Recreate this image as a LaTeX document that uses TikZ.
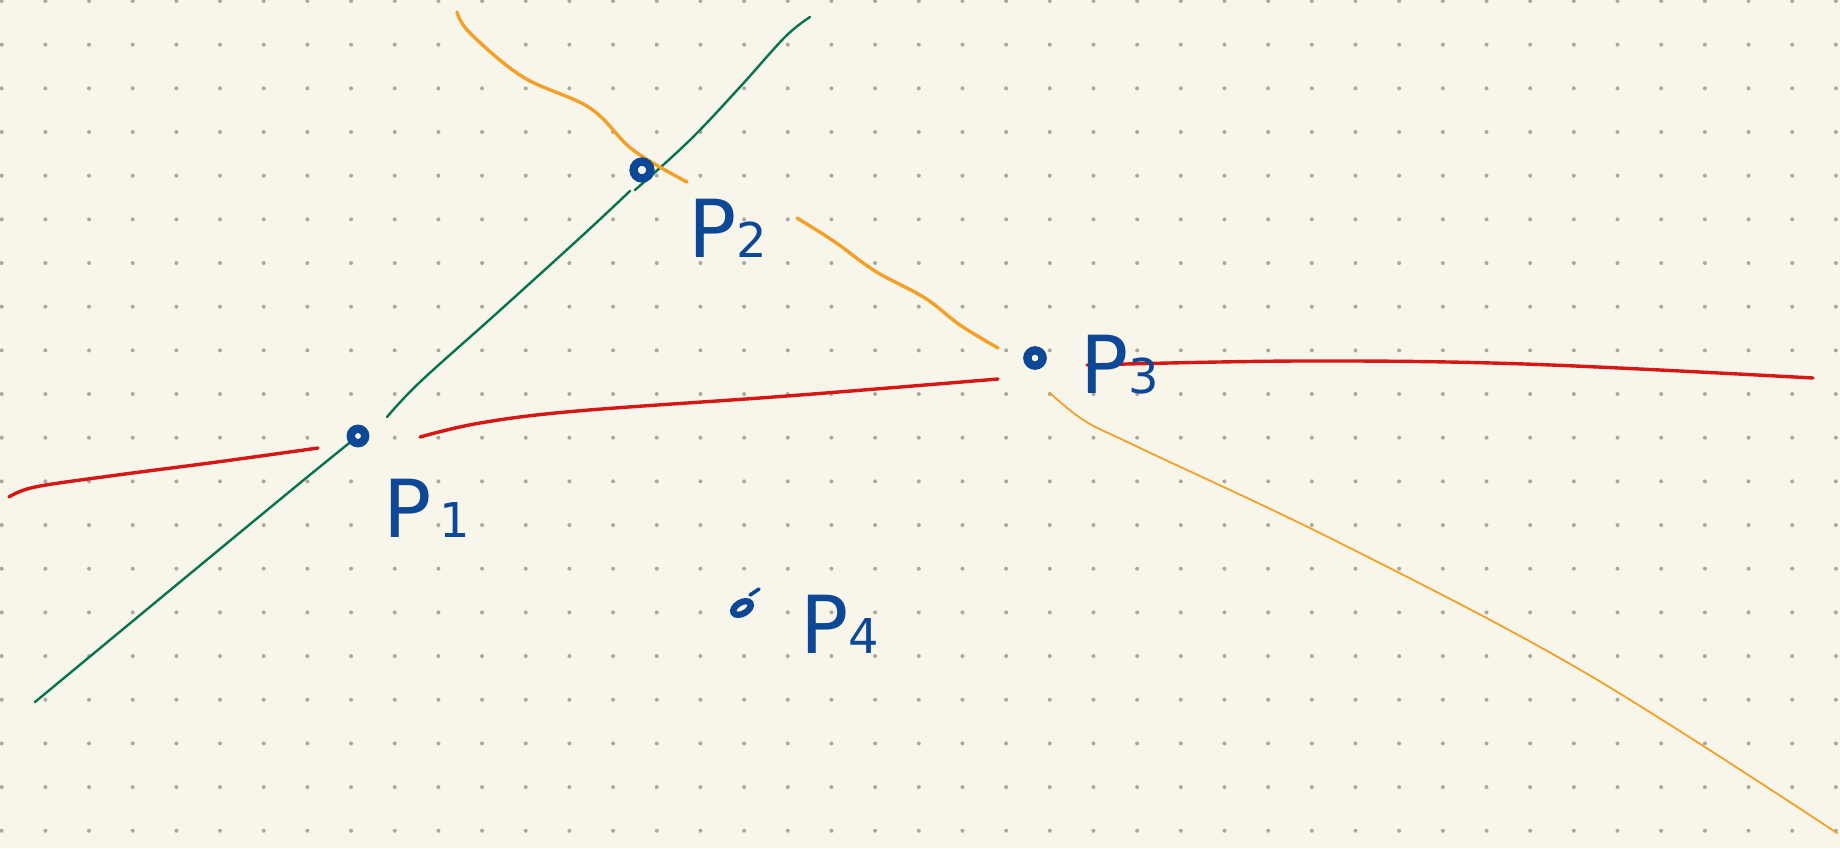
\documentclass[tikz,border=0pt]{standalone}
\usepackage{fontspec}
\setmainfont{DejaVu Sans}
\definecolor{paper}{RGB}{248,246,234}
\definecolor{griddot}{RGB}{170,168,160}
\definecolor{inkblue}{RGB}{12,72,150}
\definecolor{inkgreen}{RGB}{8,115,82}
\definecolor{inkorange}{RGB}{244,160,40}
\definecolor{inkred}{RGB}{215,22,22}
\tikzset{
  greenline/.style={inkgreen, line width=1.2pt, line cap=round, line join=round},
  redline/.style={inkred, line width=1.7pt, line cap=round, line join=round},
  orangeline/.style={inkorange, line width=1.7pt, line cap=round, line join=round},
  thinorange/.style={inkorange, line width=0.9pt, line cap=round, line join=round},
  pointdot/.style={inkblue, line width=4.2pt},
  plabel/.style={inkblue, anchor=base west, inner sep=0pt, font=\fontsize{40}{40}\selectfont},
}
\newcommand{\sub}[1]{{\fontsize{24}{24}\selectfont #1}}
\begin{document}
\begin{tikzpicture}[x=0.5pt,y=-0.5pt]
\useasboundingbox (0,0) rectangle (1840,848);
\fill[paper] (0,0) rectangle (1840,848);
% dot grid
\foreach \i in {0,...,42}{
  \foreach \j in {0,...,19}{
    \fill[griddot] ({1.7+43.67*\i},{1+43.67*\j}) circle (1pt);
  }
}
% green line
\draw[greenline] plot[smooth, tension=0.6] coordinates {(35,702) (180,582) (300,483) (353,440)};
\draw[greenline] plot[smooth, tension=0.6] coordinates {(387,417) (420,382) (497,313) (583,235) (630,191)};
\draw[greenline] plot[smooth, tension=0.6] coordinates {(635,190) (690,140) (740,87) (785,37) (810,17)};
% orange near P2
\draw[orangeline] plot[smooth, tension=0.6] coordinates {(457,12) (470,33) (523,77) (590,108) (633,150) (687,182)};
% orange P2-P3
\draw[orangeline] plot[smooth, tension=0.6] coordinates {(797,218) (835,242) (875,271) (925,298) (960,325) (998,348)};
% red lines
\draw[redline] plot[smooth, tension=0.6] coordinates {(9,497) (35,487) (110,476) (217,462) (318,448)};
\draw[redline] plot[smooth, tension=0.6] coordinates {(420,437) (480,423) (577,411) (787,396) (998,379)};
\draw[redline] plot[smooth, tension=0.6] coordinates {(1087,365) (1300,361) (1525,364) (1813,378)};
% orange lower right
\draw[thinorange] plot[smooth, tension=0.6] coordinates {(1050,393) (1085,421) (1140,448) (1340,543) (1584,672) (1837,833)};
% points
\coordinate (p1) at (358,436);
\coordinate (p2) at (642,170);
\coordinate (p3) at (1035,358);
\coordinate (p4) at (742,608);
\draw[pointdot] (p1) circle (3.6pt);
\draw[pointdot] (p2) circle (4.2pt);
\draw[pointdot] (p3) circle (3.8pt);
\draw[pointdot, line width=3.2pt, rotate around={30:(p4)}] (p4) ellipse (4.8pt and 2.8pt);
\draw[inkblue, line width=1.8pt, line cap=round] (750,595) -- (759,589);
% labels
\node[plabel] (l1) at (383,537) {P\sub{\,1}};
\node[plabel] (l2) at (688,257) {P\sub{2}};
\node[plabel] (l3) at (1080,393) {P\sub{3}};
\node[plabel] (l4) at (800,653) {P\sub{4}};
\end{tikzpicture}
\end{document}
